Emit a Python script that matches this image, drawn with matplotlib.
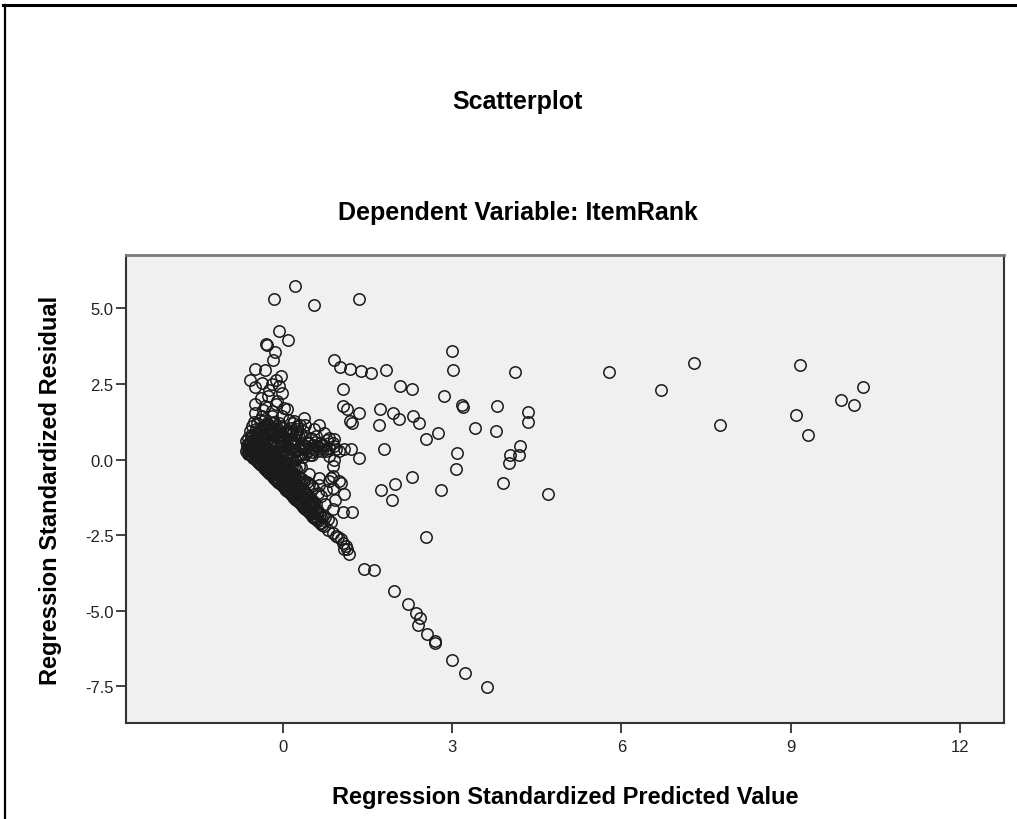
import matplotlib
matplotlib.use('Agg')
import matplotlib.pyplot as plt
from matplotlib.lines import Line2D

# (standardized predicted value, standardized residual)
cluster = [
    (-0.65, 0.28), (-0.64, 0.36), (-0.63, 0.50), (-0.65, 0.62),
    (-0.61, 0.20), (-0.60, 0.40), (-0.59, 0.56), (-0.61, 0.72), (-0.58, 0.96),
    (-0.57, 0.14), (-0.56, 0.30), (-0.55, 0.46), (-0.57, 0.82), (-0.55, 1.10),
    (-0.53, 0.07), (-0.52, 0.23), (-0.51, 0.41), (-0.53, 0.61), (-0.50, 0.86), (-0.52, 1.24),
    (-0.48, 0.00), (-0.47, 0.16), (-0.49, 0.34), (-0.46, 0.56), (-0.48, 0.76), (-0.47, 1.02), (-0.49, 1.55),
    (-0.44, -0.08), (-0.43, 0.08), (-0.45, 0.26), (-0.42, 0.46), (-0.44, 0.70), (-0.43, 0.96), (-0.45, 1.20),
    (-0.40, -0.15), (-0.39, 0.01), (-0.41, 0.20), (-0.38, 0.41), (-0.40, 0.63), (-0.39, 0.90), (-0.41, 1.31), (-0.38, 2.05),
    (-0.36, -0.22), (-0.35, -0.05), (-0.37, 0.13), (-0.34, 0.35), (-0.36, 0.56), (-0.35, 0.81), (-0.33, 1.10), (-0.36, 1.65),
    (-0.32, -0.30), (-0.31, -0.12), (-0.33, 0.05), (-0.30, 0.28), (-0.32, 0.50), (-0.31, 0.76), (-0.29, 1.00), (-0.32, 1.36),
    (-0.28, -0.37), (-0.27, -0.20), (-0.29, 0.00), (-0.26, 0.21), (-0.28, 0.42), (-0.27, 0.68), (-0.25, 0.95), (-0.28, 1.21), (-0.27, 2.10),
    (-0.24, -0.44), (-0.23, -0.26), (-0.25, -0.05), (-0.22, 0.15), (-0.24, 0.36), (-0.23, 0.60), (-0.21, 0.86), (-0.24, 1.15),
    (-0.20, -0.52), (-0.19, -0.32), (-0.21, -0.12), (-0.18, 0.08), (-0.20, 0.30), (-0.19, 0.55), (-0.17, 0.80), (-0.20, 1.05), (-0.19, 1.60),
    (-0.16, -0.60), (-0.15, -0.40), (-0.17, -0.20), (-0.14, 0.01), (-0.16, 0.25), (-0.15, 0.50), (-0.13, 0.75), (-0.16, 1.00), (-0.15, 1.26),
    (-0.12, -0.67), (-0.11, -0.45), (-0.13, -0.25), (-0.10, -0.05), (-0.12, 0.20), (-0.11, 0.45), (-0.09, 0.70), (-0.12, 0.95), (-0.11, 1.95),
    (-0.08, -0.74), (-0.07, -0.52), (-0.09, -0.30), (-0.06, -0.10), (-0.08, 0.12), (-0.07, 0.38), (-0.05, 0.62), (-0.08, 0.90), (-0.07, 1.20),
    (-0.04, -0.81), (-0.03, -0.60), (-0.05, -0.38), (-0.02, -0.15), (-0.04, 0.08), (-0.03, 0.30), (-0.01, 0.55), (-0.04, 0.82), (-0.03, 1.10),
    (0.00, -0.88), (0.01, -0.65), (-0.01, -0.45), (0.02, -0.22), (0.00, 0.00), (0.01, 0.25), (0.03, 0.50), (0.00, 0.75), (0.01, 1.05), (0.02, 1.70),
    (0.04, -0.96), (0.05, -0.72), (0.03, -0.50), (0.06, -0.28), (0.04, -0.05), (0.05, 0.20), (0.07, 0.45), (0.04, 0.70), (0.05, 0.95),
    (0.08, -1.03), (0.09, -0.80), (0.07, -0.55), (0.10, -0.35), (0.08, -0.10), (0.09, 0.15), (0.11, 0.40), (0.08, 0.65), (0.09, 0.92), (0.10, 1.30),
    (0.12, -1.10), (0.13, -0.88), (0.11, -0.62), (0.14, -0.40), (0.12, -0.15), (0.13, 0.10), (0.15, 0.35), (0.12, 0.60), (0.13, 0.88),
    (0.16, -1.18), (0.17, -0.95), (0.15, -0.70), (0.18, -0.45), (0.16, -0.20), (0.17, 0.05), (0.19, 0.30), (0.16, 0.55), (0.17, 0.85), (0.18, 1.20),
    (0.20, -1.25), (0.21, -1.00), (0.19, -0.75), (0.22, -0.50), (0.20, -0.25), (0.21, 0.00), (0.23, 0.28), (0.20, 0.55), (0.21, 0.82),
    (0.24, -1.33), (0.25, -1.08), (0.23, -0.80), (0.26, -0.55), (0.24, -0.30), (0.25, 0.05), (0.27, 0.35), (0.24, 0.65), (0.25, 1.00),
    (0.28, -1.40), (0.29, -1.15), (0.27, -0.88), (0.30, -0.60), (0.28, -0.20), (0.29, 0.15), (0.31, 0.45), (0.28, 0.75),
    (0.32, -1.48), (0.33, -1.22), (0.31, -0.95), (0.34, -0.65), (0.32, -0.25), (0.33, 0.20), (0.35, 0.50), (0.32, 0.85),
    (0.36, -1.55), (0.37, -1.30), (0.35, -1.00), (0.38, -0.70), (0.36, 0.10), (0.37, 0.40), (0.39, 0.70),
    (0.40, -1.62), (0.41, -1.38), (0.39, -1.08), (0.42, -0.75), (0.40, 0.20), (0.41, 0.45), (0.43, 0.60),
    (0.44, -1.70), (0.45, -1.45), (0.43, -1.15), (0.46, -0.80), (0.44, 0.30), (0.45, 0.55),
    (0.48, -1.78), (0.49, -1.52), (0.47, -1.25), (0.48, 0.15), (0.49, 0.40), (0.50, 0.70),
    (0.52, -1.85), (0.53, -1.60), (0.51, -1.35), (0.54, -0.95), (0.52, 0.25), (0.53, 0.50),
    (0.56, -1.92), (0.57, -1.68), (0.55, -1.40), (0.56, 0.35), (0.57, 0.60),
    (0.60, -2.00), (0.61, -1.75), (0.59, -1.45), (0.62, -1.10), (0.60, 0.30), (0.61, 0.45),
    (0.65, -2.08), (0.66, -1.80), (0.64, -0.85), (0.65, 0.40), (0.66, 0.55),
    (0.70, -2.15), (0.71, -1.85), (0.70, 0.30), (0.71, 0.50),
    (0.75, -1.90), (0.74, -1.45), (0.76, 0.35),
    (0.80, -1.95), (0.81, 0.40), (0.79, 0.65),
    (0.85, -2.05), (0.86, -0.60),
    (0.90, 0.45), (0.89, -0.55),
]

# tightly packed band just above the lower edge of the cluster
core = [
    (-0.62, 0.22), (-0.62, 0.45), (-0.58, 0.18), (-0.58, 0.34), (-0.58, 0.62),
    (-0.54, 0.12), (-0.54, 0.35), (-0.54, 0.52), (-0.50, 0.04), (-0.50, 0.28), (-0.50, 0.48),
    (-0.46, -0.03), (-0.46, 0.20), (-0.46, 0.40), (-0.42, -0.11), (-0.42, 0.12), (-0.42, 0.32),
    (-0.38, -0.18), (-0.38, 0.05), (-0.38, 0.26), (-0.34, -0.26), (-0.34, -0.02), (-0.34, 0.20),
    (-0.30, -0.33), (-0.30, -0.08), (-0.30, 0.14), (-0.26, -0.40), (-0.26, -0.15), (-0.26, 0.08),
    (-0.22, -0.48), (-0.22, -0.22), (-0.22, 0.02), (-0.18, -0.56), (-0.18, -0.28), (-0.18, -0.04),
    (-0.14, -0.63), (-0.14, -0.35), (-0.14, -0.10), (-0.10, -0.70), (-0.10, -0.42), (-0.10, -0.16),
    (-0.06, -0.78), (-0.06, -0.48), (-0.06, -0.22), (-0.02, -0.85), (-0.02, -0.55), (-0.02, -0.28),
    (0.02, -0.92), (0.02, -0.62), (0.02, -0.35), (0.06, -1.00), (0.06, -0.68), (0.06, -0.40),
    (0.10, -1.07), (0.10, -0.75), (0.10, -0.46), (0.14, -1.14), (0.14, -0.82), (0.14, -0.52),
    (0.18, -1.22), (0.18, -0.90), (0.18, -0.58), (0.22, -1.29), (0.22, -0.97), (0.22, -0.64),
    (0.26, -1.36), (0.26, -1.04), (0.26, -0.70), (0.30, -1.44), (0.30, -1.10), (0.30, -0.78),
    (0.34, -1.51), (0.34, -1.18), (0.38, -1.58), (0.38, -1.25), (0.42, -1.66), (0.42, -1.32),
    (0.46, -1.74), (0.46, -1.40), (0.50, -1.81), (0.50, -1.48), (0.54, -1.88), (0.54, -1.55),
    (0.58, -1.96), (0.58, -1.62), (0.62, -2.03), (0.62, -1.70), (0.67, -2.11), (0.67, -1.88),
    (-0.55, 0.75), (-0.45, 0.85), (-0.35, 0.95), (-0.25, 0.80), (-0.15, 0.88), (-0.05, 0.95),
    (0.05, 0.85), (-0.40, 1.05), (-0.30, 1.15), (-0.20, 1.20), (-0.10, 1.05), (0.15, 1.05),
    (0.25, 0.90), (0.35, 0.95),
]

upper_left = [
    (0.21, 5.76), (-0.16, 5.32), (0.55, 5.11), (1.35, 5.32),
    (-0.06, 4.25), (0.09, 3.95), (-0.30, 3.84), (-0.28, 3.80),
    (-0.14, 3.55), (-0.17, 3.29), (-0.49, 3.01), (-0.31, 2.98),
    (-0.59, 2.65), (-0.04, 2.78), (-0.49, 2.41), (-0.37, 2.54),
    (-0.19, 2.49), (-0.07, 2.43), (-0.01, 2.21), (-0.25, 2.32),
    (-0.13, 2.65), (-0.49, 1.83), (-0.31, 1.77), (-0.13, 1.83),
    (0.08, 1.66), (-0.37, 1.44), (-0.19, 1.44), (-0.01, 1.44),
    (0.20, 1.27), (0.37, 1.39), (0.31, 1.16), (0.64, 1.16),
]

right_side = [
    (0.91, 3.29), (1.01, 3.06), (1.19, 3.01), (1.38, 2.93), (1.57, 2.85),
    (1.83, 2.96), (2.08, 2.45), (2.28, 2.35), (1.07, 2.35), (1.07, 1.79),
    (1.14, 1.66), (1.35, 1.53), (1.19, 1.27), (1.22, 1.20), (1.72, 1.68),
    (1.71, 1.14), (1.96, 1.53), (2.05, 1.35), (2.30, 1.46), (2.42, 1.22),
    (2.53, 0.69), (1.80, 0.36), (1.35, 0.06), (1.09, 0.34), (1.20, 0.34),
    (2.29, -0.57), (1.74, -0.99), (1.98, -0.82), (1.93, -1.34), (2.53, -2.55),
    (1.06, -1.74), (1.23, -1.74), (0.88, -1.62), (1.09, -1.15),
    (3.00, 3.59), (3.01, 2.95), (4.12, 2.89), (2.85, 2.10), (3.17, 1.82),
    (3.19, 1.75), (3.80, 1.76), (4.35, 1.57), (4.35, 1.26), (2.75, 0.87),
    (3.40, 1.06), (3.77, 0.96), (3.08, 0.23), (3.06, -0.32), (4.20, 0.45),
    (4.03, 0.15), (4.18, 0.15), (4.00, -0.10), (3.90, -0.76), (4.69, -1.13),
    (2.81, -0.99),
    (0.25, 1.11), (0.40, 1.16), (0.55, 1.00), (0.73, 0.89), (0.82, 0.72),
    (0.91, 0.67), (0.94, 0.34), (0.88, 0.56), (1.00, 0.28), (0.58, 0.78),
    (0.46, 0.56), (0.37, 0.34), (0.67, 0.50), (0.76, 0.28), (0.52, 0.17),
    (0.82, 0.12), (0.88, -0.22), (0.91, 0.00), (0.46, -0.49), (0.64, -0.60),
    (0.82, -0.71), (1.00, -0.71), (0.88, -0.93), (0.76, -0.99), (0.93, -1.32),
    (0.52, -0.88), (0.67, -1.21), (1.03, -0.76), (0.40, -1.09), (0.52, -1.43),
]

far_right = [
    (5.78, 2.89), (7.28, 3.21), (6.71, 2.29), (7.74, 1.15), (9.16, 3.12),
    (10.28, 2.41), (9.89, 1.97), (10.13, 1.80), (9.10, 1.47), (9.30, 0.80),
]

lower_tail = [
    (1.43, -3.60), (1.62, -3.65), (1.97, -4.35), (2.21, -4.79), (2.36, -5.06),
    (2.43, -5.23), (2.40, -5.48), (2.56, -5.76), (2.69, -6.00), (2.70, -6.05),
    (2.99, -6.63), (3.22, -7.07), (3.62, -7.52),
    (0.73, -2.20), (0.80, -2.31), (0.88, -2.44), (0.94, -2.54), (1.03, -2.64),
    (1.07, -2.74), (1.12, -2.84), (1.14, -2.97), (1.17, -3.12), (1.09, -2.94),
    (0.98, -2.57),
]

x_ticks = [0, 3, 6, 9, 12]
y_ticks = [5.0, 2.5, 0.0, -2.5, -5.0, -7.5]
y_tick_labels = ['5.0', '2.5', '0.0', '-2.5', '-5.0', '-7.5']

plt.rcParams['font.family'] = ['Liberation Sans', 'DejaVu Sans']

fig = plt.figure(figsize=(10.17, 8.2), dpi=100)
ax = fig.add_axes([0.1239, 0.1167, 0.8633, 0.5715])
ax.set_facecolor('#F0F0F0')

for group in (cluster, core, upper_left, right_side, far_right, lower_tail):
    xs, ys = zip(*group)
    ax.plot(xs, ys, 'o', ms=8.2, mfc='none', mec='#1a1a1a', mew=1.1)

ax.set_xlim(-2.78, 12.78)
ax.set_ylim(-8.72, 6.78)
ax.set_xticks(x_ticks)
ax.set_xticklabels([str(t) for t in x_ticks])
ax.set_yticks(y_ticks)
ax.set_yticklabels(y_tick_labels)
ax.tick_params(length=7, width=1.3, color='#333333', labelsize=12,
               labelcolor='#222222')
ax.tick_params(axis='x', pad=4)
ax.tick_params(axis='y', pad=2)

for side in ('left', 'bottom', 'right'):
    ax.spines[side].set_color('#333333')
    ax.spines[side].set_linewidth(1.5)
ax.spines['top'].set_color('#7a7a7a')
ax.spines['top'].set_linewidth(2.0)

ax.set_xlabel('Regression Standardized Predicted Value', fontsize=17,
              fontweight='bold')
ax.set_ylabel('Regression Standardized Residual', fontsize=17,
              fontweight='bold')
ax.xaxis.set_label_coords(0.5, -0.132)
ax.yaxis.set_label_coords(-0.073, 0.5)

fig.text(0.509, 1 - 102 / 820, 'Scatterplot', ha='center', va='center',
         fontsize=18, fontweight='bold')
fig.text(0.509, 1 - 213 / 820, 'Dependent Variable: ItemRank', ha='center',
         va='center', fontsize=18, fontweight='bold')

# outer frame, top and left edges only
fig.add_artist(Line2D([0.003, 1.0], [1 - 6 / 820, 1 - 6 / 820],
                      transform=fig.transFigure, color='black', lw=2.2))
fig.add_artist(Line2D([5 / 1017, 5 / 1017], [0.0, 1 - 6 / 820],
                      transform=fig.transFigure, color='black', lw=1.6))

fig.savefig('out.png', dpi=100)
